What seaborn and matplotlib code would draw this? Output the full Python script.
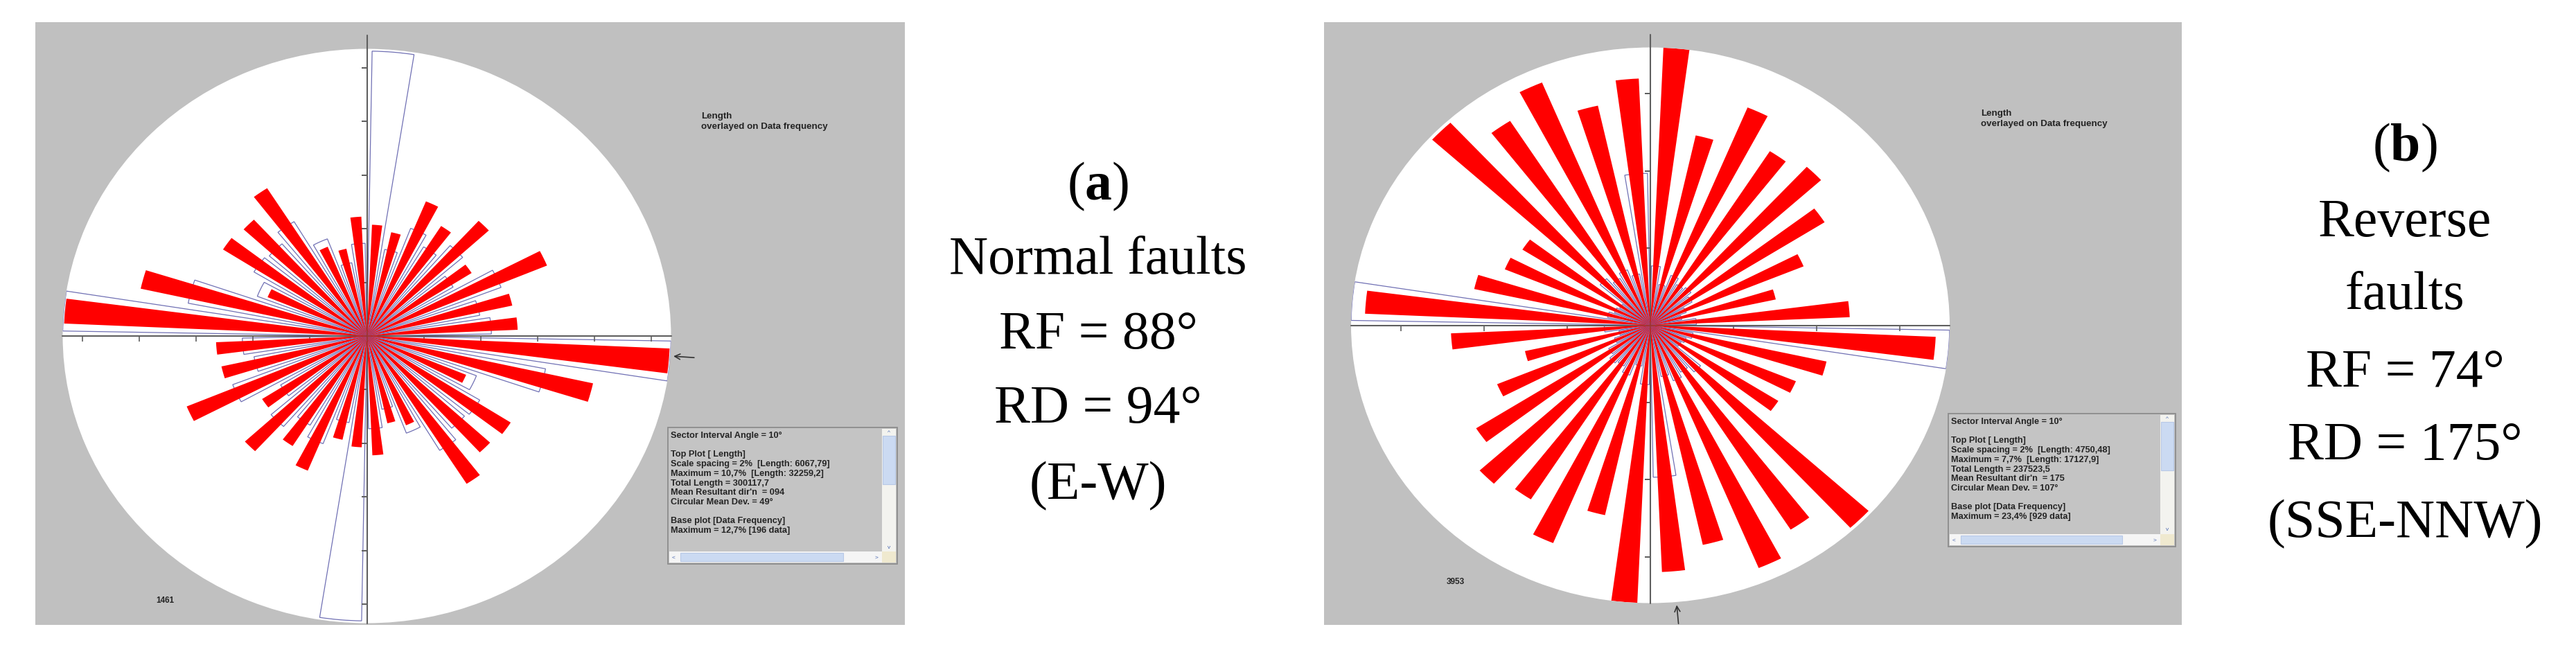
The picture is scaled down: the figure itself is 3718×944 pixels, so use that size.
import numpy as np
import matplotlib
matplotlib.use("Agg")
import matplotlib.pyplot as plt
import seaborn as sns
from matplotlib.patches import Rectangle

W, H = 3718, 945

# === data: 10 degree sectors (bidirectional rose, mirrored at +180) ===
sector_deg = [5, 15, 25, 35, 45, 55, 65, 75, 85, 95, 105, 115, 125, 135, 145, 155, 165, 175]

# (a) normal faults: length % (top plot) and data frequency % (base plot)
normal_length = [4.15, 3.96, 5.43, 4.86, 5.82, 4.37, 6.86, 5.24, 5.31, 10.66,
                 8.15, 3.78, 6.00, 5.88, 6.53, 3.60, 3.33, 4.45]
normal_freq = [12.6, 3.9, 5.1, 4.6, 5.3, 4.2, 6.0, 4.8, 5.2, 12.7,
               7.6, 4.9, 5.5, 5.4, 5.9, 4.6, 3.3, 4.1]
normal_scale_max = 10.7
normal_freq_max = 12.7
normal_mean_dir = 94

# (b) reverse faults
reverse_length = [7.20, 5.04, 6.11, 5.35, 5.57, 4.97, 3.99, 3.09, 4.80, 6.87,
                  4.34, 3.79, 3.65, 7.12, 6.28, 6.81, 5.83, 6.40]
reverse_freq = [5.0, 3.5, 4.5, 4.0, 4.2, 3.8, 3.0, 2.5, 3.6, 23.4,
                3.4, 3.0, 2.8, 5.2, 4.6, 5.0, 4.4, 12.8]
reverse_scale_max = 7.2
reverse_freq_max = 23.4
reverse_mean_dir = 175

scale_spacing = 2

normal_stats = [
    "Sector Interval Angle = 10°", "",
    "Top Plot [ Length]",
    "Scale spacing = 2%  [Length: 6067,79]",
    "Maximum = 10,7%  [Length: 32259,2]",
    "Total Length = 300117,7",
    "Mean Resultant dir'n  = 094",
    "Circular Mean Dev. = 49°", "",
    "Base plot [Data Frequency]",
    "Maximum = 12,7% [196 data]",
]
reverse_stats = [
    "Sector Interval Angle = 10°", "",
    "Top Plot [ Length]",
    "Scale spacing = 2%  [Length: 4750,48]",
    "Maximum = 7,7%  [Length: 17127,9]",
    "Total Length = 237523,5",
    "Mean Resultant dir'n  = 175",
    "Circular Mean Dev. = 107°", "",
    "Base plot [Data Frequency]",
    "Maximum = 23,4% [929 data]",
]

normal_caption = [r"($\mathbf{a}$)", "Normal faults", "RF = 88°", "RD = 94°", "(E-W)"]
reverse_caption = [r"($\mathbf{b}$)", "Reverse", "faults", "RF = 74°", "RD = 175°", "(SSE-NNW)"]

# === style ===
sns.set_theme(style="white")
plt.rcParams["font.family"] = ["Liberation Sans", "DejaVu Sans"]
plt.rcParams["mathtext.fontset"] = "custom"
plt.rcParams["mathtext.rm"] = "Liberation Serif"
plt.rcParams["mathtext.bf"] = "Liberation Serif:bold"

GRAY = "#c0c0c0"
RED = "#ff0000"
OUTLINE = "#7070b4"
AXIS = "#5f5f5f"
TXT = "#242424"

fig = plt.figure(figsize=(W / 100, H / 100), dpi=100)
fig.patch.set_facecolor("white")

canvas = fig.add_axes([0, 0, 1, 1])
canvas.set_xlim(0, W)
canvas.set_ylim(H, 0)
canvas.axis("off")


def fig_box(x0, y0, x1, y1):
    return [x0 / W, 1 - y1 / H, (x1 - x0) / W, (y1 - y0) / H]


def draw_rose(bbox, length, freq, scale_max, freq_max, mean_dir):
    ax = fig.add_axes(fig_box(*bbox), projection="polar")
    ax.set_aspect("auto")
    ax.set_theta_zero_location("N")
    ax.set_theta_direction(-1)
    ax.set_ylim(0, scale_max)
    ax.grid(False)
    ax.set_xticks([])
    ax.set_yticks([])
    ax.spines["polar"].set_visible(False)
    ax.set_facecolor("white")

    theta = np.deg2rad(np.concatenate([sector_deg, np.array(sector_deg) + 180]))
    lens = np.concatenate([length, length])
    base = np.concatenate([freq, freq]) / freq_max * scale_max

    # base plot: data frequency, white petals with blue outline
    ax.bar(theta, base, width=np.deg2rad(8), facecolor="white",
           edgecolor=OUTLINE, linewidth=0.9, zorder=2)

    # axes crosses
    ax.plot(np.deg2rad([90, 90, 270, 270]), [scale_max, 0, 0, scale_max],
            color=AXIS, lw=1.5, zorder=2.5, clip_on=False)
    ax.plot(np.deg2rad([0, 0, 180, 180]), [scale_max * 1.046, 0, 0, scale_max],
            color=AXIS, lw=1.5, zorder=2.5, clip_on=False)
    ticks = np.arange(scale_spacing, scale_max, scale_spacing)
    for ang in (90, 270):
        ax.plot(np.full(len(ticks), np.deg2rad(ang)), ticks, ls="none",
                marker=3, ms=6, mew=1.2, color=AXIS, zorder=2.5)
    for ang in (0, 180):
        ax.plot(np.full(len(ticks), np.deg2rad(ang)), ticks, ls="none",
                marker=0, ms=6, mew=1.2, color=AXIS, zorder=2.5)

    # top plot: length
    ax.bar(theta, lens, width=np.deg2rad(5), color=RED, linewidth=0, zorder=3)

    # mean resultant direction arrow
    t = np.deg2rad(mean_dir)
    ax.annotate("", xy=(t, scale_max * 1.004), xytext=(t, scale_max * 1.085),
                arrowprops=dict(arrowstyle="->", color="#333333", lw=1.2,
                                mutation_scale=14),
                annotation_clip=False, zorder=4)
    return ax


def draw_stats(x0, y0, x1, y1, lines):
    canvas.add_patch(Rectangle((x0, y0), x1 - x0, y1 - y0, facecolor="#c4c4c4",
                               edgecolor="#8c8c8c", lw=1.3, zorder=2))
    sb_w, hb_h = 20, 16
    # vertical scroll bar
    canvas.add_patch(Rectangle((x1 - sb_w - 2, y0 + 2), sb_w, y1 - y0 - hb_h - 4,
                               facecolor="#f3f3ef", edgecolor="none", zorder=3))
    canvas.add_patch(Rectangle((x1 - sb_w - 1, y0 + 12), sb_w - 2, 70,
                               facecolor="#cbdaf2", edgecolor="#b8c8e6", lw=0.8, zorder=3))
    canvas.text(x1 - sb_w / 2 - 2, y0 + 7, "^", fontsize=6, color="#4a68b0",
                ha="center", va="center", zorder=4)
    canvas.text(x1 - sb_w / 2 - 2, y1 - hb_h - 9, "v", fontsize=6, color="#4a68b0",
                ha="center", va="center", zorder=4)
    # horizontal scroll bar
    canvas.add_patch(Rectangle((x0 + 2, y1 - hb_h - 2), x1 - x0 - sb_w - 4, hb_h,
                               facecolor="#f5f5f5", edgecolor="none", zorder=3))
    canvas.add_patch(Rectangle((x0 + 18, y1 - hb_h), (x1 - x0) * 0.71, hb_h - 4,
                               facecolor="#cbdaf2", edgecolor="#b8c8e6", lw=0.8, zorder=3))
    canvas.text(x0 + 8, y1 - hb_h / 2 - 2, "<", fontsize=6, color="#4a68b0",
                ha="center", va="center", zorder=4)
    canvas.text(x1 - sb_w - 10, y1 - hb_h / 2 - 2, ">", fontsize=6, color="#4a68b0",
                ha="center", va="center", zorder=4)
    canvas.add_patch(Rectangle((x1 - sb_w - 2, y1 - hb_h - 2), sb_w, hb_h,
                               facecolor="#efe9cf", edgecolor="none", zorder=3))
    for k, line in enumerate(lines):
        if line:
            canvas.text(x0 + 4, y0 + 11 + k * 13.7, line, fontsize=9.2,
                        fontweight="bold", color=TXT, ha="left",
                        va="center", zorder=4)


def draw_caption(x, baselines, lines):
    for y, line in zip(baselines, lines):
        canvas.text(x, y, line, fontsize=56, family=["Liberation Serif", "DejaVu Serif"],
                    color="black", ha="center", va="baseline")


# === panel backgrounds ===
canvas.add_patch(Rectangle((51, 33), 1306 - 51, 903 - 33, facecolor=GRAY,
                           edgecolor="none", zorder=1))
canvas.add_patch(Rectangle((1911, 33), 3149 - 1911, 903 - 33, facecolor=GRAY,
                           edgecolor="none", zorder=1))

# === roses ===
draw_rose((90.5, 71.5, 968.5, 900.5), normal_length, normal_freq,
          normal_scale_max, normal_freq_max, normal_mean_dir)
draw_rose((1950, 69.5, 2814, 871.5), reverse_length, reverse_freq,
          reverse_scale_max, reverse_freq_max, reverse_mean_dir)

# === software annotations ===
for x, y in ((1012, 168), (2859, 164)):
    canvas.text(x, y, "Length", fontsize=9.6, fontweight="bold", color=TXT,
                ha="left", va="center", zorder=4)
    canvas.text(x, y + 15, "overlayed on Data frequency", fontsize=9.6,
                fontweight="bold", color=TXT, ha="left", va="center", zorder=4)
canvas.text(238, 867, "1461", fontsize=8.5, fontweight="bold", color=TXT,
            ha="center", va="center", zorder=4)
canvas.text(2101, 840, "3953", fontsize=8.5, fontweight="bold", color=TXT,
            ha="center", va="center", zorder=4)

draw_stats(964, 618, 1295, 815, normal_stats)
draw_stats(2812, 598, 3140, 790, reverse_stats)

# === captions ===
draw_caption(1585, [288, 395, 503, 610, 720], normal_caption)
draw_caption(3471, [232, 341, 446, 558, 663, 775], reverse_caption)

fig.savefig("out.png", dpi=100, facecolor="white")
